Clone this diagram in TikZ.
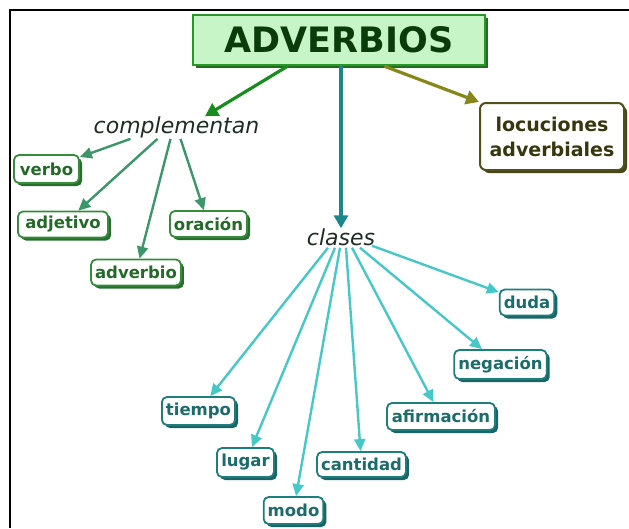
\documentclass[tikz,border=0pt]{standalone}
\usepackage{fontspec}
\setmainfont{DejaVu Sans}
\usetikzlibrary{arrows.meta,shadows,calc}
\definecolor{rootfill}{RGB}{200,245,200}
\definecolor{rootborder}{RGB}{40,150,40}
\definecolor{rootshadow}{RGB}{30,110,30}
\definecolor{roottext}{RGB}{10,60,10}
\definecolor{gborder}{RGB}{55,140,60}
\definecolor{gshadow}{RGB}{40,110,45}
\definecolor{gtext}{RGB}{35,105,40}
\definecolor{garrow}{RGB}{60,150,105}
\definecolor{tborder}{RGB}{30,125,125}
\definecolor{tshadow}{RGB}{25,100,100}
\definecolor{ttext}{RGB}{28,108,108}
\definecolor{tarrow}{RGB}{70,200,200}
\definecolor{darrow}{RGB}{25,140,30}
\definecolor{carrow}{RGB}{25,135,140}
\definecolor{oarrow}{RGB}{135,135,25}
\definecolor{oborder}{RGB}{80,80,30}
\definecolor{oshadow}{RGB}{70,70,25}
\definecolor{otext}{RGB}{55,55,15}
\definecolor{linktext}{RGB}{30,45,35}
\begin{document}
\begin{tikzpicture}[x=1pt,y=-1pt,
  rootbox/.style={draw=rootborder, fill=rootfill, line width=2.5pt, text=roottext,
    font=\fontsize{35}{40}\selectfont\bfseries, minimum width=292pt, minimum height=50pt,
    drop shadow={shadow xshift=3pt,shadow yshift=-3pt,fill=rootshadow,opacity=1}},
  gbox/.style={draw=gborder, fill=white, line width=1.8pt, rounded corners=5pt, text=gtext,
    font=\fontsize{16.5}{18}\selectfont\bfseries, inner xsep=4pt, inner ysep=2pt,
    drop shadow={shadow xshift=3pt,shadow yshift=-3pt,fill=gshadow,opacity=1}},
  tbox/.style={draw=tborder, fill=white, line width=1.8pt, rounded corners=5pt, text=ttext,
    font=\fontsize{16.5}{18}\selectfont\bfseries, inner xsep=4pt, inner ysep=2pt,
    drop shadow={shadow xshift=3pt,shadow yshift=-3pt,fill=tshadow,opacity=1}},
  obox/.style={draw=oborder, fill=white, line width=2pt, rounded corners=6pt, text=otext,
    font=\fontsize{19}{25}\selectfont\bfseries, align=center, inner sep=3pt,
    drop shadow={shadow xshift=3pt,shadow yshift=-3pt,fill=oshadow,opacity=1}},
  linkword/.style={text=linktext, inner sep=0pt, font=\fontsize{22}{26}\selectfont\itshape},
  bigarrow/.style={line width=3.2pt, -{Triangle[length=13pt,width=14pt]}},
  garr/.style={draw=garrow, line width=2.4pt, -{Triangle[length=12pt,width=11pt]}},
  tarr/.style={draw=tarrow, line width=2.4pt, -{Triangle[length=12pt,width=11pt]}}
]
\useasboundingbox (0,0) rectangle (629,528);
\draw[line width=2.5pt] (629,10) -- (10,10) -- (10,528);

\node[rootbox] (adv) at (339,40) {ADVERBIOS};
\node[linkword] (comp) at (176.5,127) {complementan};
\node[linkword] (clases) at (341,237) {clases};
\node[obox, minimum width=144pt, minimum height=67pt] (loc) at (552,136.5) {locuciones\\adverbiales};

\node[gbox, minimum width=65pt, minimum height=28pt] (verbo) at (46.5,169) {verbo};
\node[gbox, minimum width=90pt, minimum height=26pt] (adj) at (63,224.5) {adjetivo};
\node[gbox, minimum width=82pt, minimum height=26pt] (advb) at (136,272.5) {adverbio};
\node[gbox, minimum width=77pt, minimum height=26pt] (orac) at (208.5,224) {oración};

\node[tbox, minimum width=54pt, minimum height=26pt] (duda) at (527,302.5) {duda};
\node[tbox, minimum width=87pt, minimum height=29pt] (neg) at (500.5,364.5) {negación};
\node[tbox, minimum width=108pt, minimum height=27pt] (afirm) at (441,416.5) {afirmación};
\node[tbox, minimum width=73pt, minimum height=28pt] (tiempo) at (198.5,411) {tiempo};
\node[tbox, minimum width=57pt, minimum height=29pt] (lugar) at (245.5,462.5) {lugar};
\node[tbox, minimum width=57pt, minimum height=27pt] (modo) at (293.5,510.5) {modo};
\node[tbox, minimum width=87pt, minimum height=25pt] (cant) at (361.5,464.5) {cantidad};

% root connectors
\draw[bigarrow, draw=darrow, fill=darrow] (adv.-153) -- (comp.north east -| 205,0);
\draw[bigarrow, draw=carrow, fill=carrow] (clases.north |- adv.south) -- (clases.north);
\draw[bigarrow, draw=oarrow, fill=oarrow] (adv.-30) -- (loc.north west);

% complementan
\draw[garr] ($(comp.south)+(-46,1)$) -- (verbo);
\draw[garr] ($(comp.south)+(-19,1)$) -- (adj);
\draw[garr] ($(comp.south)+(-6,1)$) -- (advb);
\draw[garr] ($(comp.south)+(4,1)$) -- (orac);

% clases
\draw[tarr] ($(clases.south)+(-13,2)$) -- (tiempo);
\draw[tarr] ($(clases.south)+(-6,2)$) -- (lugar);
\draw[tarr] ($(clases.south)+(-1,2)$) -- (modo);
\draw[tarr] ($(clases.south)+(5,2)$) -- (cant);
\draw[tarr] ($(clases.south)+(11,2)$) -- (afirm);
\draw[tarr] ($(clases.south)+(19,2)$) -- (neg);
\draw[tarr] ($(clases.south)+(31,0)$) -- (duda);
\end{tikzpicture}
\end{document}
